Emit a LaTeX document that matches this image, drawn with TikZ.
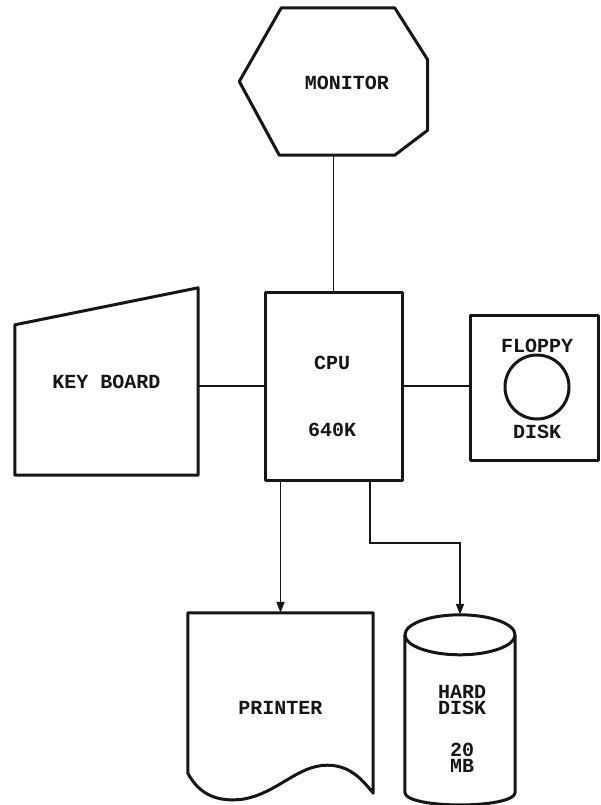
\documentclass[tikz,border=0pt]{standalone}
\usepackage{fontspec}
\setmonofont{Liberation Mono}
\usetikzlibrary{arrows.meta, positioning, calc}
\usepackage{xcolor}
\definecolor{tInk}{RGB}{22, 22, 22}

\begin{document}
\begin{tikzpicture}[
    x=1pt, y=-1pt,
    font=\ttfamily\bfseries\fontsize{20}{22}\selectfont,
    >={Triangle[length=11pt, width=8pt]},
    unit/.style={
        inner sep=0pt,
        align=center,
        text=tInk
    },
    outline/.style={draw=tInk, line width=3pt, line join=round},
    link/.style={draw=tInk, line width=1.8pt},
    arrow/.style={->, link}
]

\fill[white] (0,0) rectangle (600,805);
\useasboundingbox (0,0) rectangle (600,805);

% Monitor
\node[unit, minimum width=188pt, minimum height=147pt] (monitor) at (333.5,81.5) {};
\draw[outline] ($(monitor.north west)+(42,0)$) -- ($(monitor.north east)+(-33,0)$)
    -- ($(monitor.north east)+(0,52)$) -- ($(monitor.south east)+(0,-25)$)
    -- ($(monitor.south east)+(-33,0)$) -- ($(monitor.south west)+(40,0)$)
    -- (monitor.west) -- cycle;
\node[unit] (tMonitor) at (347,83) {MONITOR};

% Keyboard
\node[unit, minimum width=183pt, minimum height=187pt] (keyboard) at (106.5,381.5) {KEY BOARD};
\draw[outline] ($(keyboard.north west)+(0,37)$) -- (keyboard.north east)
    -- (keyboard.south east) -- (keyboard.south west) -- cycle;

% CPU
\node[unit, outline, minimum width=137pt, minimum height=188pt] (cpu) at (333.5,386) {};
\node[unit] (tCpu) at (332,363) {CPU};
\node[unit] (tMem) at (332,430) {640K};

% Floppy disk
\node[unit, outline, minimum width=128pt, minimum height=145pt] (floppy) at (534,387.5) {};
\node[unit, outline, circle, minimum size=64pt] (disk) at (537,387) {};
\node[unit] (tFloppy) at (537,346) {FLOPPY};
\node[unit] (tDisk) at (537,432) {DISK};

% Printer
\node[unit, minimum width=185pt, minimum height=190pt] (printer) at (280.5,708) {PRINTER};
\draw[outline] ($(printer.south east)+(0,-10)$) -- (printer.north east) -- (printer.north west)
    -- ($(printer.south west)+(0,-30)$)
    .. controls +(12,22) and +(-25,3) .. ($(printer.south west)+(55,-4)$)
    .. controls +(35,-6) and +(-30,0) .. ($(printer.south east)+(-46,-38)$)
    .. controls +(22,0) and +(-12,-15) .. ($(printer.south east)+(0,-10)$) -- cycle;

% Hard disk
\node[unit, minimum width=110pt, minimum height=157pt] (harddisk) at (460,713.5) {};
\draw[outline] (harddisk.north) ellipse [x radius=55, y radius=20];
\draw[outline] (harddisk.north west) -- (harddisk.south west)
    .. controls +(0,17) and +(0,17) .. (harddisk.south east) -- (harddisk.north east);
\coordinate (hdtop) at ($(harddisk.north)+(0,-20)$);
\node[unit, font=\ttfamily\bfseries\fontsize{20}{16}\selectfont] (tHard) at (462,729) {HARD\\DISK\\[26pt]20\\MB};

% Connections
\draw[link] (monitor.south) -- (cpu.north);
\draw[link] (keyboard.east |- cpu.west) -- (cpu.west);
\draw[link] (cpu.east) -- (cpu.east -| floppy.west);
\draw[arrow] (cpu.south -| printer.north) -- (printer.north);
\coordinate (hdbend) at (370,543);
\draw[arrow] (cpu.south -| hdbend) -- (hdbend) -| (hdtop);

\end{tikzpicture}
\end{document}
